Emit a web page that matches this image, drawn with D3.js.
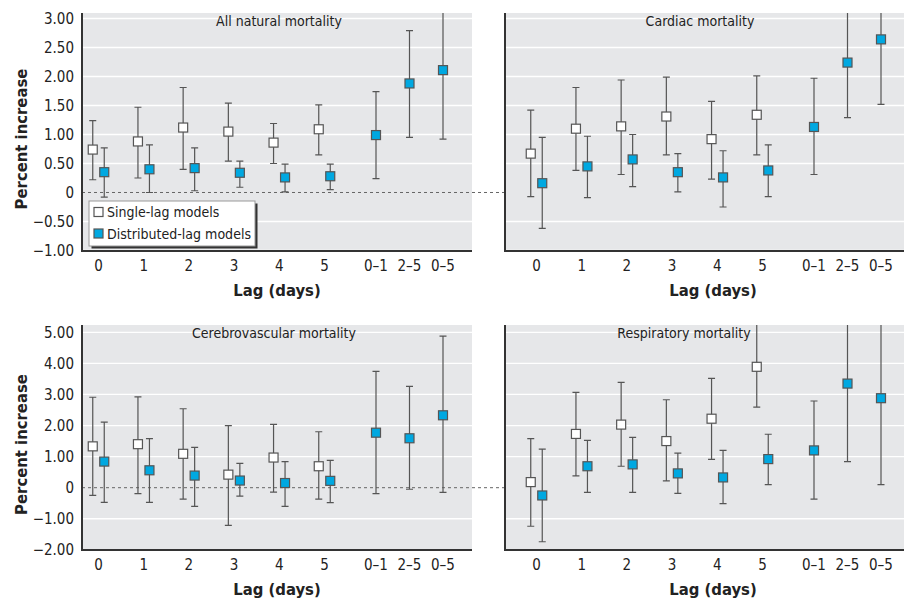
<!DOCTYPE html>
<html>
<head>
<meta charset="utf-8">
<script src="https://cdn.jsdelivr.net/npm/d3@7"></script>
<style>
  body { margin: 0; background: #fff; }
  svg { display: block; }
  text { font-family: "Liberation Sans Narrow", "DejaVu Sans Condensed", "Roboto Condensed", sans-serif; font-stretch: condensed; fill: #222; }
</style>
</head>
<body>
<svg id="chart" width="905" height="601"></svg>
<script>
// categories
const lagLabels = ["0", "1", "2", "3", "4", "5"];
const cumLabels = ["0–1", "2–5", "0–5"];

// y ticks
const topTicks = [-1, -0.5, 0, 0.5, 1, 1.5, 2, 2.5, 3];
const bottomTicks = [-2, -1, 0, 1, 2, 3, 4, 5];

// [estimate, lower, upper] — single-lag: lags 0..5, distributed-lag: lags 0..5 then 0–1, 2–5, 0–5
const naturalSingle = [[0.74, 0.22, 1.24], [0.88, 0.25, 1.47], [1.12, 0.40, 1.81], [1.05, 0.54, 1.54], [0.86, 0.50, 1.19], [1.09, 0.65, 1.51]];
const naturalDist = [[0.35, -0.08, 0.77], [0.40, 0.00, 0.82], [0.42, 0.03, 0.77], [0.34, 0.09, 0.54], [0.26, 0.01, 0.49], [0.28, 0.05, 0.49],
  [0.99, 0.24, 1.74], [1.88, 0.95, 2.79], [2.11, 0.92, 3.30]];

const cardiacSingle = [[0.67, -0.07, 1.42], [1.10, 0.38, 1.81], [1.14, 0.31, 1.94], [1.31, 0.65, 1.99], [0.92, 0.23, 1.57], [1.34, 0.65, 2.01]];
const cardiacDist = [[0.16, -0.62, 0.95], [0.45, -0.09, 0.97], [0.57, 0.10, 1.00], [0.35, 0.01, 0.67], [0.26, -0.25, 0.72], [0.38, -0.07, 0.82],
  [1.13, 0.31, 1.97], [2.24, 1.29, 3.20], [2.64, 1.52, 3.76]];

const cerebroSingle = [[1.33, -0.25, 2.91], [1.40, -0.19, 2.92], [1.09, -0.37, 2.54], [0.42, -1.21, 2.00], [0.97, -0.14, 2.04], [0.69, -0.37, 1.80]];
const cerebroDist = [[0.84, -0.47, 2.11], [0.56, -0.47, 1.58], [0.39, -0.60, 1.30], [0.23, -0.27, 0.78], [0.15, -0.60, 0.84], [0.22, -0.48, 0.88],
  [1.77, -0.19, 3.74], [1.59, -0.05, 3.26], [2.33, -0.15, 4.88]];

const respSingle = [[0.18, -1.24, 1.58], [1.73, 0.38, 3.07], [2.03, 0.69, 3.39], [1.50, 0.22, 2.83], [2.22, 0.91, 3.52], [3.89, 2.59, 5.30]];
const respDist = [[-0.25, -1.74, 1.24], [0.69, -0.15, 1.52], [0.75, -0.15, 1.62], [0.46, -0.18, 1.11], [0.33, -0.51, 1.20], [0.92, 0.10, 1.72],
  [1.20, -0.37, 2.79], [3.35, 0.84, 5.86], [2.88, 0.10, 5.66]];

const blue = "#00a8e1";
const bg = "#e6e7e9";
const svg = d3.select("#chart");

const fmt = d => d === 0 ? "0" : d3.format(".2f")(d).replace("-", "–");
const rows = [
  { y0: 13, y1: 251, domain: [-1.009, 3.095], ticks: topTicks },
  { y0: 325, y1: 550, domain: [-2.005, 5.235], ticks: bottomTicks }
];
const cols = [{ x0: 82, x1: 472, off: 16.5 }, { x0: 505, x1: 904, off: 31.5 }];

const panels = [
  { row: 0, col: 0, title: "All natural mortality", tx: 279, single: naturalSingle, dist: naturalDist },
  { row: 0, col: 1, title: "Cardiac mortality", tx: 700, single: cardiacSingle, dist: cardiacDist },
  { row: 1, col: 0, title: "Cerebrovascular mortality", tx: 274, single: cerebroSingle, dist: cerebroDist },
  { row: 1, col: 1, title: "Respiratory mortality", tx: 684, single: respSingle, dist: respDist }
];

panels.forEach((p, i) => {
  const r = rows[p.row], c = cols[p.col];
  const y = d3.scaleLinear().domain(r.domain).range([r.y1, r.y0]);
  const xLag = d3.scalePoint().domain(lagLabels).range([c.x0 + c.off, c.x0 + c.off + 226]);
  const xCum = d3.scalePoint().domain(cumLabels).range([c.x0 + c.off + 277.5, c.x0 + c.off + 344.5]);
  const dodge = 5.75;

  const g = svg.append("g");

  g.append("rect")
    .attr("x", c.x0).attr("y", r.y0)
    .attr("width", c.x1 - c.x0).attr("height", r.y1 - r.y0)
    .attr("fill", bg);

  g.append("clipPath").attr("id", "clip" + i)
    .append("rect")
    .attr("x", c.x0).attr("y", r.y0)
    .attr("width", c.x1 - c.x0).attr("height", r.y1 - r.y0);

  // gridlines
  g.selectAll(".grid")
    .data(r.ticks.filter(t => t !== 0))
    .join("line")
    .attr("x1", c.x0).attr("x2", c.x1)
    .attr("y1", d => y(d)).attr("y2", d => y(d))
    .attr("stroke", "#fff").attr("stroke-width", 1.3);

  // zero line runs across the gap between panels
  if (p.col === 0) {
    g.append("line")
      .attr("x1", c.x0).attr("x2", cols[1].x1)
      .attr("y1", y(0)).attr("y2", y(0))
      .attr("stroke", "#666").attr("stroke-dasharray", "3,3");
  }

  // y axis
  const yAxis = d3.axisLeft(y).tickValues(r.ticks).tickSize(0).tickPadding(8).tickFormat(fmt);
  const ga = g.append("g").attr("transform", `translate(${c.x0},0)`).call(yAxis);
  ga.select(".domain").remove();
  ga.selectAll("text").style("font-size", "15px").attr("fill", "#222");
  if (p.col === 1) ga.selectAll("text").remove();

  // axis lines
  g.append("path")
    .attr("d", `M${c.x0},${r.y0}V${r.y1}H${c.x1}`)
    .attr("fill", "none").attr("stroke", "#333").attr("stroke-width", 2);

  // x tick labels
  const xy = r.y1 + 20;
  g.selectAll(".lagTick").data(lagLabels).join("text")
    .attr("x", d => xLag(d)).attr("y", xy)
    .attr("text-anchor", "middle").style("font-size", "15px")
    .text(d => d);
  g.selectAll(".cumTick").data(cumLabels).join("text")
    .attr("x", d => xCum(d)).attr("y", xy)
    .attr("text-anchor", "middle").style("font-size", "15px")
    .text(d => d);

  g.append("text")
    .attr("x", p.col === 0 ? 277 : 713).attr("y", r.y1 + 45)
    .attr("text-anchor", "middle")
    .style("font-size", "16.5px").style("font-weight", "bold")
    .text("Lag (days)");

  if (p.col === 0) {
    g.append("text")
      .attr("transform", `translate(27,${(r.y0 + r.y1) / 2 + 7}) rotate(-90)`)
      .attr("text-anchor", "middle")
      .style("font-size", "16.5px").style("font-weight", "bold")
      .text("Percent increase");
  }

  g.append("text")
    .attr("x", p.tx).attr("y", r.y0 + 13)
    .attr("text-anchor", "middle").style("font-size", "14px")
    .attr("fill", "#333")
    .text(p.title);

  // points
  const pts = [];
  p.single.forEach((d, k) => pts.push({ x: xLag(lagLabels[k]) - dodge, v: d, type: "single" }));
  p.dist.forEach((d, k) => pts.push({
    x: k < lagLabels.length ? xLag(lagLabels[k]) + dodge : xCum(cumLabels[k - lagLabels.length]),
    v: d, type: "dist"
  }));

  const m = g.append("g").attr("clip-path", `url(#clip${i})`);
  const cap = 3.5;
  m.selectAll(".bar").data(pts).join("path")
    .attr("d", d => `M${d.x},${y(d.v[1])}V${y(d.v[2])}` +
      `M${d.x - cap},${y(d.v[1])}h${cap * 2}M${d.x - cap},${y(d.v[2])}h${cap * 2}`)
    .attr("stroke", "#555").attr("stroke-width", 1.2).attr("fill", "none");
  const s = 9;
  m.selectAll(".pt").data(pts).join("rect")
    .attr("x", d => d.x - s / 2).attr("y", d => y(d.v[0]) - s / 2)
    .attr("width", s).attr("height", s)
    .attr("fill", d => d.type === "single" ? "#fff" : blue)
    .attr("stroke", "#555").attr("stroke-width", 1.2);
});

// legend
const lg = svg.append("g").attr("transform", "translate(89,201)");
lg.append("rect").attr("x", 2.5).attr("y", 2.5).attr("width", 166).attr("height", 45).attr("fill", "#333");
lg.append("rect").attr("width", 166).attr("height", 45).attr("fill", "#fff").attr("stroke", "#999");
const legendItems = [{ label: "Single-lag models", fill: "#fff" }, { label: "Distributed-lag models", fill: blue }];
legendItems.forEach((d, k) => {
  lg.append("rect").attr("x", 5).attr("y", 6.5 + k * 21.5).attr("width", 9).attr("height", 9)
    .attr("fill", d.fill).attr("stroke", "#555").attr("stroke-width", 1.2);
  lg.append("text").attr("x", 18).attr("y", 16 + k * 21.5)
    .attr("textLength", k === 1 ? 144 : null).attr("lengthAdjust", "spacingAndGlyphs")
    .style("font-size", "14px").text(d.label);
});
</script>
</body>
</html>
